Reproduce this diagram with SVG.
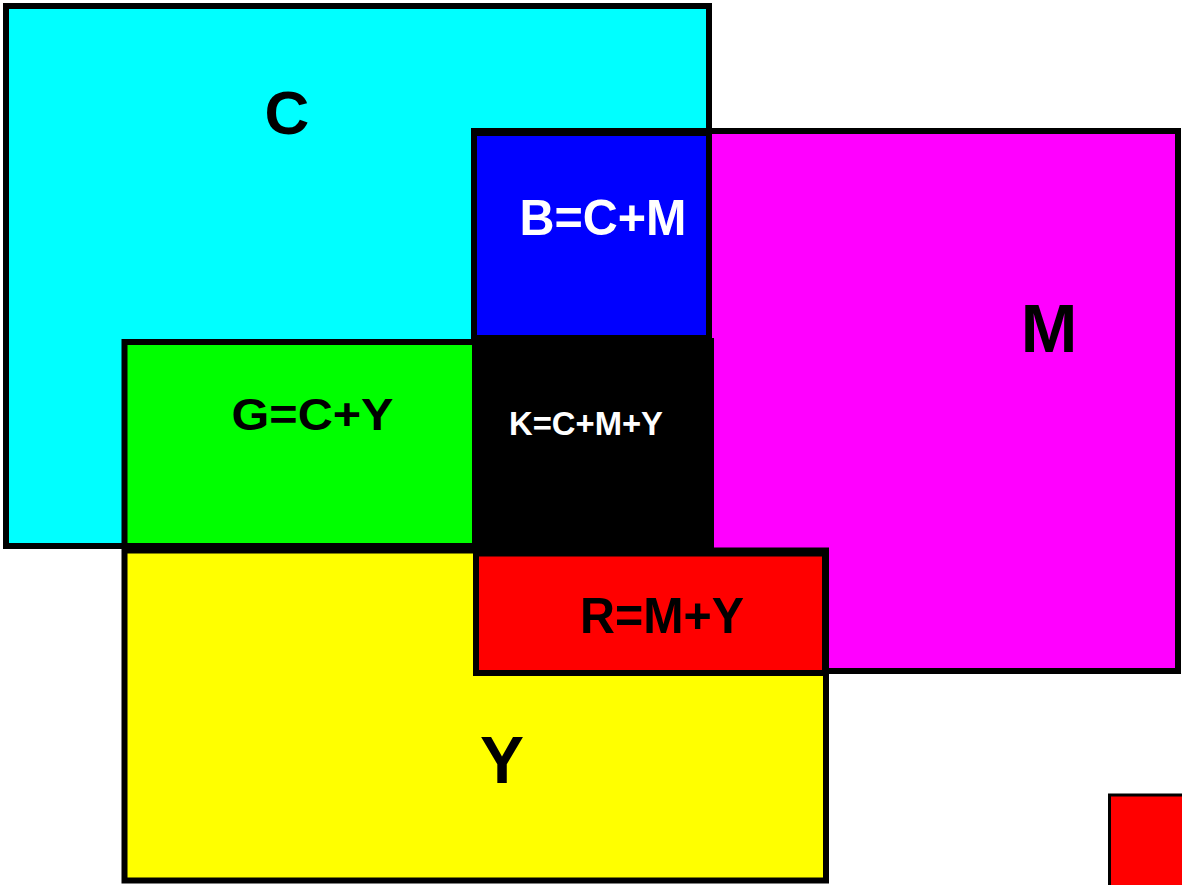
<svg xmlns="http://www.w3.org/2000/svg" width="1182" height="885" viewBox="0 0 1182 885">
<style>
.box{stroke:#000;stroke-width:6}
.lbl{font-family:"Liberation Sans",Arial,sans-serif;font-weight:bold;text-anchor:middle}
.dk{fill:#000}
.lt{fill:#fff}
</style>
<rect width="1182" height="885" fill="#fff"/>
<g id="node-C">
<rect class="box" x="6" y="6" width="703" height="540" fill="#00FFFF"/>
<text class="lbl dk" x="287" y="134" font-size="62">C</text>
</g>
<g id="node-M">
<rect class="box" x="474" y="131" width="704" height="540" fill="#FF00FF"/>
<text class="lbl dk" x="1049" y="352" font-size="68">M</text>
</g>
<g id="node-Y">
<rect class="box" x="124.5" y="550.5" width="701.5" height="330" fill="#FFFF00"/>
<text class="lbl dk" x="502" y="783" font-size="66">Y</text>
</g>
<g id="node-B">
<rect class="box" x="474" y="133" width="235" height="205" fill="#0000FF"/>
<text class="lbl lt" x="603" y="235" font-size="50" textLength="167" lengthAdjust="spacingAndGlyphs">B=C+M</text>
</g>
<g id="node-G">
<rect class="box" x="124.5" y="342" width="360" height="204" fill="#00FF00"/>
<text class="lbl dk" x="312.5" y="430" font-size="45" textLength="162" lengthAdjust="spacingAndGlyphs">G=C+Y</text>
</g>
<g id="node-K">
<rect x="472" y="338" width="242" height="214" fill="#000"/>
<text class="lbl lt" x="586" y="435" font-size="33" textLength="154" lengthAdjust="spacingAndGlyphs">K=C+M+Y</text>
</g>
<g id="node-R">
<rect class="box" x="476" y="553.5" width="349" height="119.5" fill="#FF0000"/>
<text class="lbl dk" x="662" y="633" font-size="50" textLength="164" lengthAdjust="spacingAndGlyphs">R=M+Y</text>
</g>
<g id="node-red-square">
<rect x="1109.5" y="795" width="80" height="100" fill="#FF0000" stroke="#000" stroke-width="3"/>
</g>
<g id="connectors"></g>
</svg>
